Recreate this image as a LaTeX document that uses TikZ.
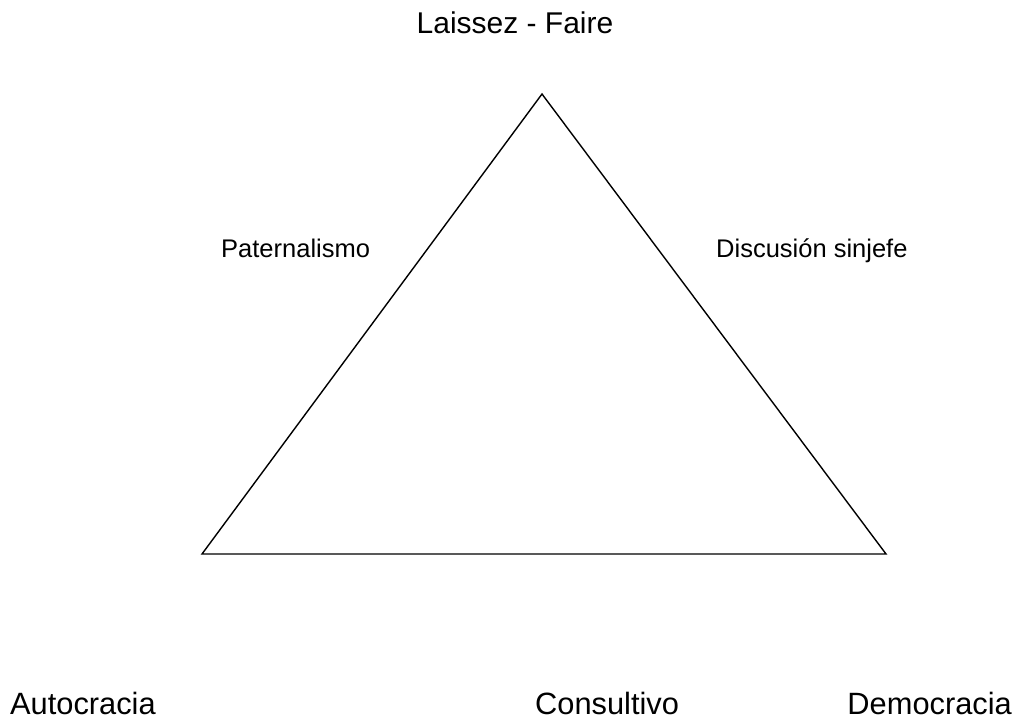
\documentclass[tikz,border=0pt]{standalone}
\usepackage{fontspec}
\setmainfont{Liberation Sans}
\begin{document}
\begin{tikzpicture}[x=1pt,y=-1pt,
  big/.style={font=\fontsize{30}{36}\selectfont, inner sep=0pt},
  bottom/.style={font=\fontsize{30.8}{36}\selectfont, inner sep=0pt, text depth=0pt},
  small/.style={font=\fontsize{25.5}{30}\selectfont, inner sep=0pt},
  edge/.style={draw=black, line width=1.4pt, line join=miter}]
\useasboundingbox (0,0) rectangle (1017,721);
\coordinate (top) at (542,94);
\coordinate (bl) at (202,554);
\coordinate (br) at (886,554);
\draw[edge] (top) -- (bl) -- (br) -- cycle;
\node[big, anchor=base] (lf) at (515,33) {Laissez - Faire};
\node[small, anchor=base west] (pat) at (221,257) {Paternalismo};
\node[small, anchor=base west] (dis) at (716,257) {Discusión sinjefe};
\node[bottom, anchor=base west] (aut) at (10,714) {Autocracia};
\node[bottom, anchor=base west] (con) at (535,714) {Consultivo};
\node[bottom, anchor=base east] (dem) at (1012,714) {Democracia};
\end{tikzpicture}
\end{document}
